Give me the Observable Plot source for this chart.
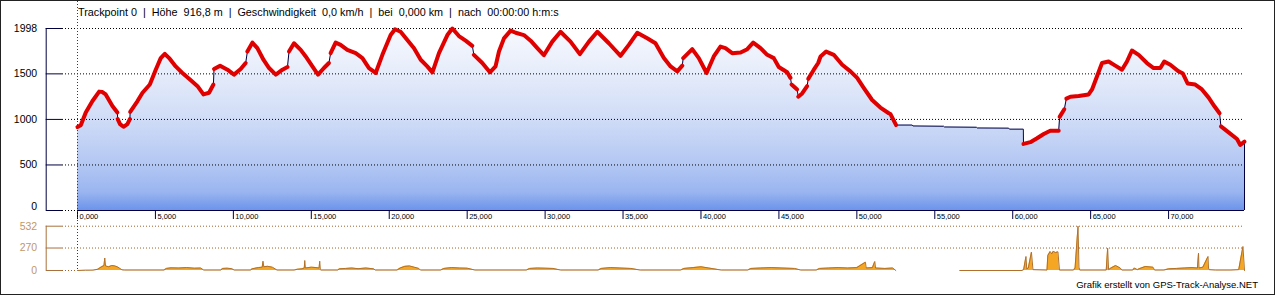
<!DOCTYPE html>
<html><head><meta charset="utf-8">
<script src="https://cdn.jsdelivr.net/npm/d3@7"></script>
<script src="https://cdn.jsdelivr.net/npm/@observablehq/plot@0.6"></script>
<style>
html,body{margin:0;padding:0;background:#fff;}
#wrap{position:relative;width:1275px;height:295px;overflow:hidden;background:#fff;}
#wrap svg{position:absolute;left:0;}
#header{position:absolute;left:78px;top:6px;font:10.8px "Liberation Sans",Arial,sans-serif;white-space:pre;color:#000;line-height:13px;}
#footer{position:absolute;right:17px;top:279px;font:9.5px "Liberation Sans",Arial,sans-serif;color:#000;white-space:pre;line-height:12px;}
#border{position:absolute;left:0;top:0;right:0;bottom:0;border:1px solid #222;pointer-events:none;}
</style></head><body>
<div id="wrap"><div id="header"></div><div id="footer"></div><div id="border"></div></div>
<script>
// ---------- data ----------
const elevKm = [0.00,0.21,0.53,0.96,1.39,1.60,1.81,2.24,2.56,
  2.58,2.73,2.95,3.20,3.36,
  3.38,3.85,4.17,4.64,5.02,5.34,5.60,5.88,6.30,6.73,7.27,7.70,8.08,8.44,8.72,
  8.76,9.15,9.62,10.04,10.47,10.79,
  10.90,11.22,11.54,11.93,12.29,12.72,13.15,13.47,
  13.57,13.89,14.32,14.64,15.07,15.43,15.81,16.13,
  16.24,16.56,16.88,17.31,17.85,18.28,18.70,19.13,19.56,20.09,20.37,20.73,21.16,21.59,22.02,22.44,22.77,23.19,23.73,24.05,24.47,24.90,25.33,
  25.43,25.97,26.46,26.82,27.04,27.36,27.79,28.11,28.64,29.07,29.50,29.92,30.46,30.99,31.63,32.23,32.81,33.35,34.09,34.84,35.37,35.91,36.55,37.08,37.62,38.05,38.48,38.80,
  38.86,39.44,39.86,40.36,40.82,41.25,41.57,42.00,42.54,42.97,43.35,43.82,44.25,44.67,44.99,45.53,45.74,
  45.81,46.17,
  46.24,46.49,46.81,
  46.88,47.24,47.52,47.67,48.03,48.52,49.06,49.59,50.02,50.44,50.98,51.51,52.05,52.15,52.52,
  53.55,53.60,55.57,55.62,57.67,57.72,59.74,59.79,60.68,
  60.69,61.13,61.56,61.99,62.41,62.95,
  63.01,63.31,
  63.44,63.70,64.23,64.87,65.09,65.41,65.73,66.15,66.58,67.01,67.33,67.65,68.08,68.61,69.04,69.47,69.72,70.11,70.64,70.92,71.22,71.71,72.14,72.57,72.93,73.27,
  73.36,73.85,74.39,74.60,74.87];
const elevM = [916.8,935,1076,1202,1305,1300,1274,1147,1076,
  1003,948,919,948,1003,
  1083,1202,1293,1383,1546,1673,1720,1673,1582,1510,1430,1365,1274,1293,1383,
  1553,1590,1546,1492,1553,1619,
  1745,1843,1782,1655,1564,1492,1546,1575,
  1745,1836,1763,1691,1582,1492,1564,1619,
  1727,1843,1818,1763,1727,1673,1564,1510,1709,1926,1990,1962,1872,1782,1655,1582,1517,1727,1926,1998,1915,1864,1807,
  1709,1619,1517,1582,1745,1890,1975,1951,1926,1864,1782,1705,1854,1962,1854,1717,1854,1962,1836,1698,1818,1951,1890,1836,1673,1582,1528,1590,
  1673,1771,1673,1510,1691,1799,1782,1727,1734,1771,1843,1782,1709,1673,1575,1517,1456,
  1383,1329,
  1249,1285,1365,
  1445,1546,1619,1691,1745,1709,1600,1528,1456,1347,1213,1130,1068,1060,938,
  938,928,925,917,914,906,904,893,893,
  731,750,793,840,876,876,
  1028,1111,
  1228,1249,1256,1274,1329,1473,1619,1636,1590,1546,1636,1756,1709,1619,1564,1564,1636,1600,1528,1503,1394,1383,1329,1239,1147,1068,
  923,858,785,720,756];
// the red track line restarts at these kilometres and is missing between the gap bounds
const redBreakKm = [2.58,3.38,8.76,10.90,13.57,16.24,25.43,38.86,45.81,46.24,46.88,60.69,63.01,63.44,73.36];
const redGapKm = [52.52, 60.69];

const speedKm = [0,0.5,1.0,1.3,1.5,1.7,1.75,1.8,2.0,2.2,2.4,2.6,2.85,3.0,5.55,5.7,6.0,6.5,7.0,7.5,7.9,8.1,9.2,9.3,9.6,9.9,10.05,11.1,11.2,11.6,11.85,11.9,11.95,12.2,12.5,12.8,
  13.9,14.1,14.4,14.55,14.58,14.62,15.0,15.3,15.5,15.54,15.58,15.6,16.7,16.8,17.2,17.6,18.0,18.5,19.0,19.1,20.5,20.7,21.0,21.3,21.6,21.9,22.0,
  23.3,23.5,24.0,24.5,25.0,25.5,28.8,29.0,29.5,30.0,30.5,31.0,33.4,33.6,34.2,34.8,35.5,36.1,38.7,38.9,39.5,40.0,40.5,41.3,
  43.0,43.2,43.8,44.5,45.2,46.0,46.4,47.4,47.6,48.2,48.8,49.4,50.0,50.55,50.6,51.0,51.15,51.2,51.8,52.3,52.5,
  56.6,60.6,60.7,60.85,60.9,61.0,61.2,61.3,62.2,62.25,62.4,62.5,62.6,62.75,62.9,63.0,63.9,64.0,64.19,64.25,64.3,
  66.0,66.09,66.15,66.3,66.6,66.9,67.0,67.7,67.8,68.0,68.1,68.5,69.0,69.1,69.7,70.0,70.5,71.0,71.5,71.85,71.92,71.95,72.2,72.53,72.56,72.6,73.0,74.0,74.5,74.77,74.87];
const speedKmh = [0,3,4,15,40,60,150,55,45,60,55,40,8,5,5,25,32,30,35,28,30,5,5,25,28,22,5,5,20,35,40,112,45,50,40,5,
  5,15,20,30,120,30,40,35,30,112,10,5,5,20,25,30,22,30,20,5,5,30,50,55,40,25,5,
  5,25,35,30,28,5,5,25,30,28,25,5,5,25,35,30,25,5,5,25,35,45,30,5,
  5,25,30,35,30,25,5,5,25,30,35,30,35,100,30,35,108,30,25,30,0,
  0,0,10,168,20,30,220,10,5,180,228,200,230,215,225,5,5,30,532,40,5,
  5,268,10,30,60,30,5,5,30,10,20,48,40,5,5,20,25,30,35,30,208,30,40,168,30,10,5,5,10,288,0];
const speedGapKm = [52.5, 56.6];

const xTicks = [0,5,10,15,20,25,30,35,40,45,50,55,60,65,70];
const yTicks = [0,500,1000,1500,1998];
const speedTicks = [0,270,532];
const headerText = "Trackpoint 0  |  Höhe  916,8 m  |  Geschwindigkeit  0,0 km/h  |  bei  0,000 km  |  nach  00:00:00 h:m:s";
const footerText = "Grafik erstellt von GPS-Track-Analyse.NET";

// ---------- derived tables ----------
const elev = elevKm.map((km, i) => ({km, ele: elevM[i]}));
const red = [];
let seg = 0;
for (const d of elev) {
  if (d.km > redGapKm[0] && d.km < redGapKm[1]) continue;
  if (redBreakKm.includes(d.km)) seg++;
  red.push({...d, seg});
}
const speed = speedKm.map((km, i) => ({km, v: speedKmh[i], seg: km >= speedGapKm[1] ? 1 : 0}));
const last = elev[elev.length - 1];

// ---------- layout ----------
const W = 1275, X0 = 77, X1 = 1244, XMAX = last.km;
const xPix = d3.scaleLinear([0, XMAX], [X0, X1]);
const kmAt = p => xPix.invert(p);
const TOP_H = 226;
const yTop = d3.scaleLinear([0, 1998], [210, 28]);
const eleAt = p => yTop.invert(p);
const SP_TOP = 214, SP_H = 81;
const ySp = d3.scaleLinear([0, 532], [270 - SP_TOP, 225.7 - SP_TOP]);
const spAt = p => ySp.invert(p);

const NAVY = "#000040";
const FILL_PH = "#123457";
const fmtKm = d => d.toFixed(3).replace(".", ",");
const font = "Liberation Sans";

const topPlot = Plot.plot({
  width: W, height: TOP_H, margin: 0,
  style: {background: "none", overflow: "visible", fontFamily: font},
  x: {domain: [0, XMAX], range: [X0, X1], axis: null},
  y: {domain: [0, 1998], range: [210, 28], axis: null},
  marks: [
    Plot.areaY(elev, {x: "km", y: "ele", fill: FILL_PH}),
    Plot.ruleY(yTicks.filter(d => d > 0), {x1: kmAt(62), x2: XMAX, stroke: "#000", strokeDasharray: "1,2"}),
    Plot.ruleY([0], {x1: kmAt(62), x2: 0, stroke: "#000", strokeDasharray: "1,2"}),
    Plot.ruleY([0], {x1: 0, x2: XMAX, stroke: NAVY}),
    Plot.ruleX([kmAt(45.7)], {y1: 0, y2: 1998, stroke: NAVY}),
    Plot.ruleY(yTicks, {x1: kmAt(45.7), x2: kmAt(62), stroke: NAVY}),
    Plot.text(yTicks.filter(d => d > 0), {x: kmAt(45.7), y: d => d, text: d => String(d), dx: -9, textAnchor: "end", fontSize: 10.5, fontFamily: font, fill: "#000"}),
    Plot.text([0], {x: kmAt(45.7), y: d => d, text: d => String(d), dx: -9, dy: -4, textAnchor: "end", fontSize: 10.5, fontFamily: font, fill: "#000"}),
    Plot.line(elev, {x: "km", y: "ele", stroke: NAVY, strokeWidth: 1}),
    Plot.ruleX([last], {x: "km", y1: 0, y2: "ele", stroke: NAVY}),
    Plot.line(red, {x: "km", y: "ele", z: "seg", stroke: "#e00000", strokeWidth: 4, strokeLinejoin: "round", strokeLinecap: "round"}),
    Plot.ruleX(xTicks, {y1: 0, y2: eleAt(219), stroke: NAVY}),
    Plot.text(xTicks, {x: d => d, y: eleAt(216), text: fmtKm, dx: 2, textAnchor: "start", fontSize: 7.5, fontFamily: font, fill: "#000"}),
    Plot.ruleX([0], {y1: eleAt(1), y2: eleAt(TOP_H), stroke: "#c00000", strokeDasharray: "1,2"})
  ]
});
topPlot.style.top = "0px";
const defs = document.createElementNS("http://www.w3.org/2000/svg", "defs");
defs.innerHTML = `<linearGradient id="elevGrad" gradientUnits="userSpaceOnUse" x1="0" y1="28" x2="0" y2="210">
  <stop offset="0" stop-color="#f8f9fe"/>
  <stop offset="0.25" stop-color="#e5ecfa"/>
  <stop offset="0.5" stop-color="#d0dcf7"/>
  <stop offset="0.75" stop-color="#b3c7f3"/>
  <stop offset="0.9" stop-color="#9ab5f0"/>
  <stop offset="1" stop-color="#6c94ea"/>
</linearGradient>`;
topPlot.insertBefore(defs, topPlot.firstChild);
topPlot.querySelectorAll(`[fill="${FILL_PH}"]`).forEach(e => e.setAttribute("fill", "url(#elevGrad)"));

const BROWN = "#a8703c", TAN = "#c09868";
const spPlot = Plot.plot({
  width: W, height: SP_H, margin: 0,
  style: {background: "none", overflow: "visible", fontFamily: font},
  x: {domain: [0, XMAX], range: [X0, X1], axis: null},
  y: {domain: [0, 532], range: [270 - SP_TOP, 225.7 - SP_TOP], axis: null},
  marks: [
    Plot.ruleY(speedTicks.filter(d => d > 0), {x1: kmAt(62), x2: XMAX, stroke: "#a0602a", strokeDasharray: "1,2"}),
    Plot.ruleY([0], {x1: kmAt(62), x2: 0, stroke: "#a0602a", strokeDasharray: "1,2"}),
    Plot.ruleX([kmAt(45.7)], {y1: 0, y2: 532, stroke: BROWN}),
    Plot.ruleY(speedTicks, {x1: kmAt(45.7), x2: kmAt(62), stroke: BROWN}),
    Plot.text(speedTicks, {x: kmAt(45.7), y: d => d, text: d => String(d), dx: -9, textAnchor: "end", fontSize: 10.5, fontFamily: font, fill: TAN}),
    Plot.areaY(speed, {x: "km", y: "v", z: "seg", fill: "#f5a623"}),
    Plot.line(speed, {x: "km", y: "v", z: "seg", stroke: "#b0702a", strokeWidth: 1}),
    Plot.ruleX([0], {y1: spAt(0), y2: 0, stroke: "#c00000", strokeDasharray: "1,2"})
  ]
});
spPlot.style.top = SP_TOP + "px";

const wrap = document.getElementById("wrap");
wrap.insertBefore(spPlot, wrap.firstChild);
wrap.insertBefore(topPlot, wrap.firstChild);
document.getElementById("header").textContent = headerText;
document.getElementById("footer").textContent = footerText;
</script>
</body></html>
